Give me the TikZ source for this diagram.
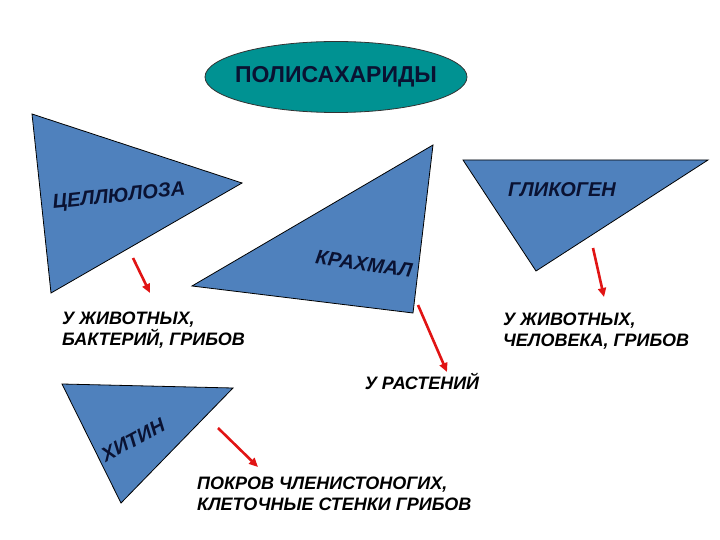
\documentclass[tikz,border=0pt]{standalone}
\usepackage{fontspec}
\setmainfont{Liberation Sans}
\definecolor{triblue}{RGB}{79,129,189}
\definecolor{ovalteal}{RGB}{0,146,146}
\definecolor{navytext}{RGB}{10,18,50}
\definecolor{arrred}{RGB}{225,20,20}
\usetikzlibrary{shapes.geometric,arrows.meta,positioning}

\begin{document}
\begin{tikzpicture}[x=1pt,y=-1pt,
  tri/.style={draw=black,line width=0.8pt,fill=triblue},
  oval/.style={ellipse,draw=black!80,line width=0.8pt,fill=ovalteal,
               minimum width=262pt,minimum height=71pt,inner sep=0pt,
               font=\fontsize{23}{26}\selectfont\bfseries,text=navytext},
  sugar/.style={font=\fontsize{20}{24}\selectfont\bfseries\itshape,
                text=navytext,inner sep=0pt},
  where/.style={font=\fontsize{18}{20.5}\selectfont\bfseries\itshape,
                align=left,inner sep=0pt},
  arr/.style={-{Triangle[length=9pt,width=8pt]},line width=2.6pt,draw=arrred}
]
  \useasboundingbox (0,0) rectangle (720,540);

  \node[oval] (poly) at (336,77) {\makebox[0pt]{ПОЛИСАХАРИДЫ}};

  % triangles
  \coordinate (ca) at (32,114);  \coordinate (cb) at (242,183); \coordinate (cc) at (51,293);
  \coordinate (sa) at (192,286); \coordinate (sb) at (433,145); \coordinate (sc) at (413,313);
  \coordinate (ga) at (463,160); \coordinate (gb) at (708,160); \coordinate (gc) at (536,271);
  \coordinate (ha) at (62,384);  \coordinate (hb) at (233,388); \coordinate (hc) at (121,503);
  \draw[tri] (ca) -- (cb) -- (cc) -- cycle;
  \draw[tri] (sa) -- (sb) -- (sc) -- cycle;
  \draw[tri] (ga) -- (gb) -- (gc) -- cycle;
  \draw[tri] (ha) -- (hb) -- (hc) -- cycle;

  \node[sugar,rotate=6] (cell) at (119,197) {ЦЕЛЛЮЛОЗА};
  \node[sugar,rotate=-8] (starch) at (364,264) {КРАХМАЛ};
  \node[sugar] (glyc) at (562,190) {ГЛИКОГЕН};
  \node[sugar,rotate=28] (chit) at (133,440) {ХИТИН};

  % where found
  \node[where,anchor=west] (wcell) at (62,330) {У ЖИВОТНЫХ,\\БАКТЕРИЙ, ГРИБОВ};
  \node[where,anchor=west] (wglyc) at (503,331) {У ЖИВОТНЫХ,\\ЧЕЛОВЕКА, ГРИБОВ};
  \node[where] (wstarch) at (422,381) {У РАСТЕНИЙ};
  \node[where,anchor=west] (wchit) at (197,494) {ПОКРОВ ЧЛЕНИСТОНОГИХ,\\КЛЕТОЧНЫЕ СТЕНКИ ГРИБОВ};

  \coordinate (a1) at (133,258); \coordinate (b1) at (150,293);
  \coordinate (a2) at (418,305); \coordinate (b2) at (447,372);
  \coordinate (a3) at (593,248); \coordinate (b3) at (604,297);
  \coordinate (a4) at (218,428); \coordinate (b4) at (258,467);
  \draw[arr] (a1) -- (b1); \draw[arr] (a2) -- (b2);
  \draw[arr] (a3) -- (b3); \draw[arr] (a4) -- (b4);
\end{tikzpicture}
\end{document}
